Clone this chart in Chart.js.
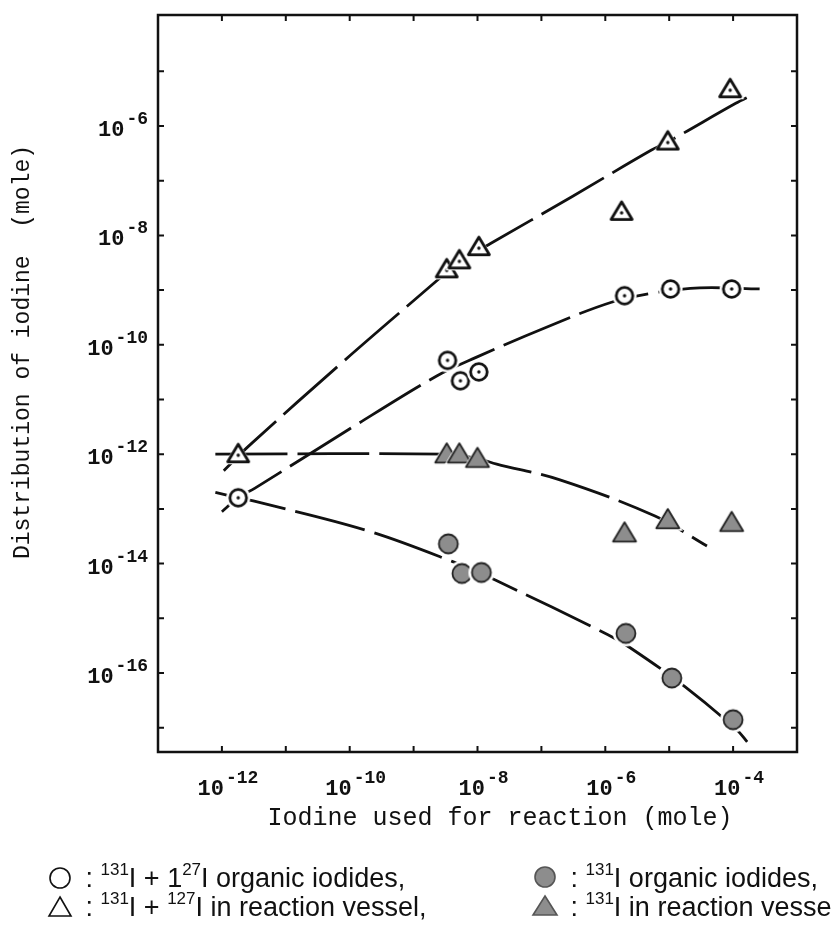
<!DOCTYPE html>
<html>
<head>
<meta charset="utf-8">
<script src="https://cdn.jsdelivr.net/npm/chart.js@4.4.0/dist/chart.umd.min.js"></script>
<style>
  html, body { margin: 0; background: #fff; }
  #chart { display: block; }
</style>
</head>
<body>
<canvas id="chart" width="832" height="946"></canvas>
<script>
const openCircleX = [1.8e-12, 3.4e-9, 5.4e-9, 1.05e-8, 2.0e-6, 1.05e-5, 9.5e-5];
const openCircleY = [1.6e-13, 5.2e-11, 2.2e-11, 3.2e-11, 7.9e-10, 1.05e-9, 1.05e-9];

const openTriX = [1.8e-12, 3.3e-9, 5.2e-9, 1.05e-8, 1.8e-6, 9.5e-6, 9.0e-5];
const openTriY = [1.0e-12, 2.4e-9, 3.5e-9, 6.1e-9, 2.7e-8, 5.2e-7, 4.7e-6];

const fillCircleX = [3.5e-9, 5.7e-9, 1.15e-8, 2.1e-6, 1.1e-5, 1.0e-4];
const fillCircleY = [2.3e-14, 6.6e-15, 6.9e-15, 5.3e-16, 8.1e-17, 1.4e-17];

const fillTriX = [3.3e-9, 5.2e-9, 1.0e-8, 2.0e-6, 9.5e-6, 9.5e-5];
const fillTriY = [1.0e-12, 1.0e-12, 8.3e-13, 3.6e-14, 6.3e-14, 5.6e-14];

// hand drawn trend curves
const curveAX = [1.07e-12, 2.75e-12, 8.0e-11, 2.3e-9, 4.8e-9, 1.6e-8, 3.0e-7, 5.2e-6, 9.5e-6, 1.1e-4, 2.0e-4];
const curveAY = [5.0e-13, 1.48e-12, 5.0e-11, 1.48e-9, 3.1e-9, 7.1e-9, 5.1e-8, 3.6e-7, 5.1e-7, 2.6e-6, 3.7e-6];

const curveBX = [1.0e-12, 1.8e-12, 3.3e-12, 9.5e-11, 2.3e-9, 9.5e-9, 1.2e-7, 1.25e-6, 5.8e-6, 3.0e-5, 2.6e-4];
const curveBY = [8.9e-14, 1.6e-13, 2.4e-13, 2.8e-12, 2.7e-11, 5.9e-11, 2.1e-10, 6.0e-10, 8.9e-10, 1.1e-9, 1.05e-9];

const curveCX = [7.9e-13, 3.1e-9, 1.0e-8, 2.0e-8, 1.95e-7, 6.0e-6, 3.9e-5];
const curveCY = [1.0e-12, 1.0e-12, 8.3e-13, 6.6e-13, 3.4e-13, 7.4e-14, 2.1e-14];

const curveDX = [7.9e-13, 1.8e-12, 3.1e-12, 1.9e-10, 4.0e-9, 1.9e-8, 1.1e-6, 2.45e-6, 1.78e-5, 1.15e-4, 1.66e-4];
const curveDY = [2.0e-13, 1.6e-13, 1.4e-13, 4.0e-14, 1.1e-14, 5.0e-15, 5.0e-16, 2.9e-16, 5.6e-17, 9.1e-18, 5.5e-18];

// axis decades and labels
const xDecades = [1e-12, 1e-11, 1e-10, 1e-9, 1e-8, 1e-7, 1e-6, 1e-5, 1e-4];
const xLabelValues = [1e-12, 1e-10, 1e-8, 1e-6, 1e-4];
const xLabelExps = ['-12', '-10', '-8', '-6', '-4'];
const yDecades = [1e-5, 1e-6, 1e-7, 1e-8, 1e-9, 1e-10, 1e-11, 1e-12, 1e-13, 1e-14, 1e-15, 1e-16, 1e-17];
const yLabelValues = [1e-6, 1e-8, 1e-10, 1e-12, 1e-14, 1e-16];
const yLabelExps = ['-6', '-8', '-10', '-12', '-14', '-16'];

const xTitle = 'Iodine used for reaction (mole)';
const yTitle = 'Distribution of iodine  (mole)';

const MONO = '"Liberation Mono", "DejaVu Sans Mono", monospace';
const SANS = '"Liberation Sans", Arial, sans-serif';
const GREY = '#8d8d8d';

function pts(xs, ys) {
    return xs.map((x, i) => ({ x: x, y: ys[i] }));
}

// marker images: white halo so the curves break around the symbols
function makeMarker(kind) {
    const c = document.createElement('canvas');
    c.width = 34; c.height = 34;
    const g = c.getContext('2d');
    const cx = 17, cy = 17;
    g.lineJoin = 'round';
    const tri = (s) => {
        g.beginPath();
        g.moveTo(cx, cy - s * 0.95);
        g.lineTo(cx + s, cy + s * 0.72);
        g.lineTo(cx - s, cy + s * 0.72);
        g.closePath();
    };
    if (kind === 'openCircle') {
        g.beginPath(); g.arc(cx, cy, 12, 0, Math.PI * 2); g.fillStyle = '#fff'; g.fill();
        g.beginPath(); g.arc(cx, cy, 8.3, 0, Math.PI * 2);
        g.lineWidth = 2.8; g.strokeStyle = '#111'; g.stroke();
        g.beginPath(); g.arc(cx, cy, 1.7, 0, Math.PI * 2); g.fillStyle = '#111'; g.fill();
    } else if (kind === 'fillCircle') {
        g.beginPath(); g.arc(cx, cy, 13, 0, Math.PI * 2); g.fillStyle = '#fff'; g.fill();
        g.beginPath(); g.arc(cx, cy, 9.5, 0, Math.PI * 2);
        g.fillStyle = GREY; g.fill();
        g.lineWidth = 1.8; g.strokeStyle = '#222'; g.stroke();
    } else if (kind === 'openTri') {
        tri(14); g.fillStyle = '#fff'; g.fill();
        tri(10.5); g.lineWidth = 2.8; g.strokeStyle = '#111'; g.stroke();
        g.beginPath(); g.arc(cx, cy + 1, 1.7, 0, Math.PI * 2); g.fillStyle = '#111'; g.fill();
    } else {
        tri(15); g.fillStyle = '#fff'; g.fill();
        tri(11.5); g.fillStyle = GREY; g.fill();
        g.lineWidth = 1.8; g.strokeStyle = '#222'; g.stroke();
    }
    return c;
}

const markerDataset = (label, xs, ys, kind) => ({
    label: label,
    data: pts(xs, ys),
    pointStyle: makeMarker(kind),
    pointRadius: 10,
    showLine: false
});

const curveDataset = (label, xs, ys) => ({
    label: label,
    data: pts(xs, ys),
    showLine: true,
    pointRadius: 0,
    borderColor: '#111',
    borderWidth: 2.8,
    borderDash: [72, 10],
    tension: 0.35,
    fill: false
});

// "10" with a raised exponent
function drawPower(ctx, x, y, exp, base, sup, align) {
    ctx.font = base;
    const wb = ctx.measureText('10').width;
    ctx.font = sup;
    const ws = ctx.measureText(exp).width;
    let left = x;
    if (align === 'right') left = x - wb - ws - 2;
    if (align === 'center') left = x - (wb + ws + 2) / 2;
    ctx.textAlign = 'left';
    ctx.textBaseline = 'alphabetic';
    ctx.font = base;
    ctx.fillText('10', left, y);
    ctx.font = sup;
    ctx.fillText(exp, left + wb + 2, y - 12);
}

// legend text made of [text, isSuperscript] parts
function drawRich(ctx, x, y, parts) {
    let cx = x;
    parts.forEach(p => {
        ctx.font = p[1] ? '17px ' + SANS : '27px ' + SANS;
        ctx.fillText(p[0], cx, p[1] ? y - 12 : y);
        cx += ctx.measureText(p[0]).width;
    });
}

const framePlugin = {
    id: 'frame',
    afterDraw(chart) {
        const ctx = chart.ctx;
        const a = chart.chartArea;
        const xs = chart.scales.x, ys = chart.scales.y;
        ctx.save();
        ctx.strokeStyle = '#111';
        ctx.fillStyle = '#111';

        // box
        ctx.lineWidth = 2.5;
        ctx.strokeRect(a.left, a.top, a.right - a.left, a.bottom - a.top);

        // inward ticks on all four sides
        ctx.lineWidth = 2;
        const tl = 6;
        xDecades.forEach(v => {
            const px = xs.getPixelForValue(v);
            ctx.beginPath();
            ctx.moveTo(px, a.bottom); ctx.lineTo(px, a.bottom - tl);
            ctx.moveTo(px, a.top); ctx.lineTo(px, a.top + tl);
            ctx.stroke();
        });
        yDecades.forEach(v => {
            const py = ys.getPixelForValue(v);
            ctx.beginPath();
            ctx.moveTo(a.left, py); ctx.lineTo(a.left + tl, py);
            ctx.moveTo(a.right, py); ctx.lineTo(a.right - tl, py);
            ctx.stroke();
        });

        // tick labels
        const base = 'bold 22px ' + MONO;
        const sup = 'bold 18px ' + MONO;
        xLabelValues.forEach((v, i) => {
            drawPower(ctx, xs.getPixelForValue(v) + 6, a.bottom + 43, xLabelExps[i], base, sup, 'center');
        });
        yLabelValues.forEach((v, i) => {
            drawPower(ctx, a.left - 10, ys.getPixelForValue(v) + 10, yLabelExps[i], base, sup, 'right');
        });

        // axis titles
        ctx.textAlign = 'center';
        ctx.textBaseline = 'middle';
        ctx.font = '25px ' + MONO;
        ctx.fillText(xTitle, 500, 818);
        ctx.font = '23px ' + MONO;
        ctx.save();
        ctx.translate(23, 352);
        ctx.rotate(-Math.PI / 2);
        ctx.fillText(yTitle, 0, 0);
        ctx.restore();

        // legend
        ctx.textAlign = 'left';
        ctx.textBaseline = 'alphabetic';
        const r1 = 887, r2 = 916;
        const lx = 60, rx = 545;
        ctx.lineWidth = 1.6;
        ctx.strokeStyle = '#111';
        ctx.beginPath(); ctx.arc(lx, r1 - 9, 10, 0, Math.PI * 2); ctx.stroke();
        ctx.beginPath(); ctx.arc(rx, r1 - 10, 10, 0, Math.PI * 2);
        ctx.fillStyle = GREY; ctx.fill(); ctx.strokeStyle = '#555'; ctx.stroke();
        ctx.strokeStyle = '#111';
        ctx.beginPath(); ctx.moveTo(lx, r2 - 19); ctx.lineTo(lx + 11, r2); ctx.lineTo(lx - 11, r2); ctx.closePath(); ctx.stroke();
        ctx.beginPath(); ctx.moveTo(rx, r2 - 20); ctx.lineTo(rx + 12, r2 - 1); ctx.lineTo(rx - 12, r2 - 1); ctx.closePath();
        ctx.fillStyle = GREY; ctx.fill(); ctx.strokeStyle = '#555'; ctx.stroke();

        ctx.fillStyle = '#111';
        drawRich(ctx, lx + 18, r1, [[' : ', 0], ['131', 1], ['I + 1', 0], ['27', 1], ['I organic iodides,', 0]]);
        drawRich(ctx, lx + 18, r2, [[' : ', 0], ['131', 1], ['I + ', 0], ['127', 1], ['I in reaction vessel,', 0]]);
        drawRich(ctx, rx + 18, r1, [[' : ', 0], ['131', 1], ['I organic iodides,', 0]]);
        drawRich(ctx, rx + 18, r2, [[' : ', 0], ['131', 1], ['I in reaction vessel', 0]]);
        ctx.restore();
    }
};

new Chart(document.getElementById('chart'), {
    type: 'scatter',
    data: {
        datasets: [
            markerDataset('131I + 127I organic iodides', openCircleX, openCircleY, 'openCircle'),
            markerDataset('131I + 127I in reaction vessel', openTriX, openTriY, 'openTri'),
            markerDataset('131I organic iodides', fillCircleX, fillCircleY, 'fillCircle'),
            markerDataset('131I in reaction vessel', fillTriX, fillTriY, 'fillTri'),
            curveDataset('fit A', curveAX, curveAY),
            curveDataset('fit B', curveBX, curveBY),
            curveDataset('fit C', curveCX, curveCY),
            curveDataset('fit D', curveDX, curveDY)
        ]
    },
    options: {
        responsive: false,
        animation: false,
        devicePixelRatio: 1,
        layout: { padding: { left: 158, right: 35, top: 15, bottom: 194 } },
        scales: {
            x: { type: 'logarithmic', min: 1e-13, max: 1e-3, display: false },
            y: { type: 'logarithmic', min: 3.6e-18, max: 1.07e-4, display: false }
        },
        plugins: {
            legend: { display: false },
            tooltip: { enabled: false }
        }
    },
    plugins: [framePlugin]
});
</script>
</body>
</html>
